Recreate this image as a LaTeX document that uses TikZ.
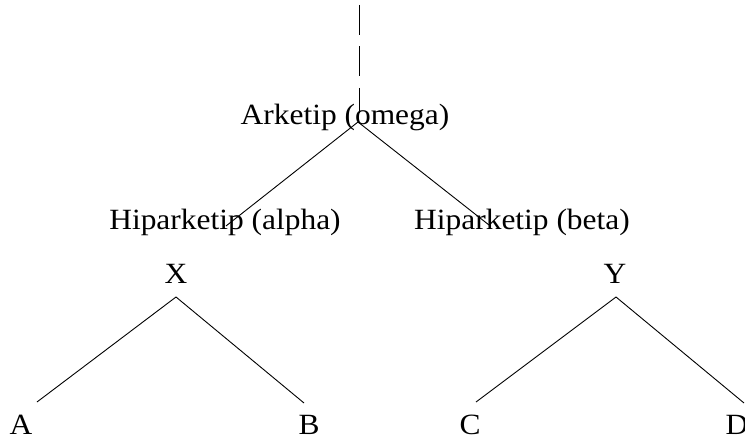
\documentclass[tikz,border=0pt]{standalone}
\usepackage{fontspec}
\setmainfont{Liberation Serif}[FakeStretch=1.07]
\begin{document}
\begin{tikzpicture}[x=1bp,y=-1bp,
  label/.style={anchor=base,inner sep=0pt,font=\fontsize{29.5}{35}\selectfont},
  branch/.style={line width=0.9bp,black},
  stem/.style={line width=1bp,black,dash pattern=on 30bp off 11.5bp}]
  \useasboundingbox (0,0) rectangle (745,439);

  % labels
  \node[label] (omega) at (345,125) {Arketip (omega)};
  \node[label] (alpha) at (225,230) {Hiparketip (alpha)};
  \node[label] (beta)  at (522,230) {Hiparketip (beta)};
  \node[label] (x) at (176,284) {X};
  \node[label] (y) at (615,284) {Y};
  \node[label] (a) at (21,434) {A};
  \node[label] (b) at (309,434) {B};
  \node[label] (c) at (470,434) {C};
  \node[label] (d) at (737,434) {D};

  % branch points and line ends
  \coordinate (stemtop) at (359,5);
  \coordinate (stembot) at (359,113);
  \coordinate (omegaapex) at (358,122);
  \coordinate (alphaend) at (226,226);
  \coordinate (betaend) at (489,225);
  \coordinate (xapex) at (176,297);
  \coordinate (aend) at (37,402);
  \coordinate (bend) at (304,403);
  \coordinate (yapex) at (616,297);
  \coordinate (cend) at (476,402);
  \coordinate (dend) at (744,403);

  % connectors
  \draw[stem] (stemtop) -- (stembot);
  \draw[branch] (alphaend) -- (omegaapex) -- (betaend);
  \draw[branch] (aend) -- (xapex) -- (bend);
  \draw[branch] (cend) -- (yapex) -- (dend);
\end{tikzpicture}
\end{document}
